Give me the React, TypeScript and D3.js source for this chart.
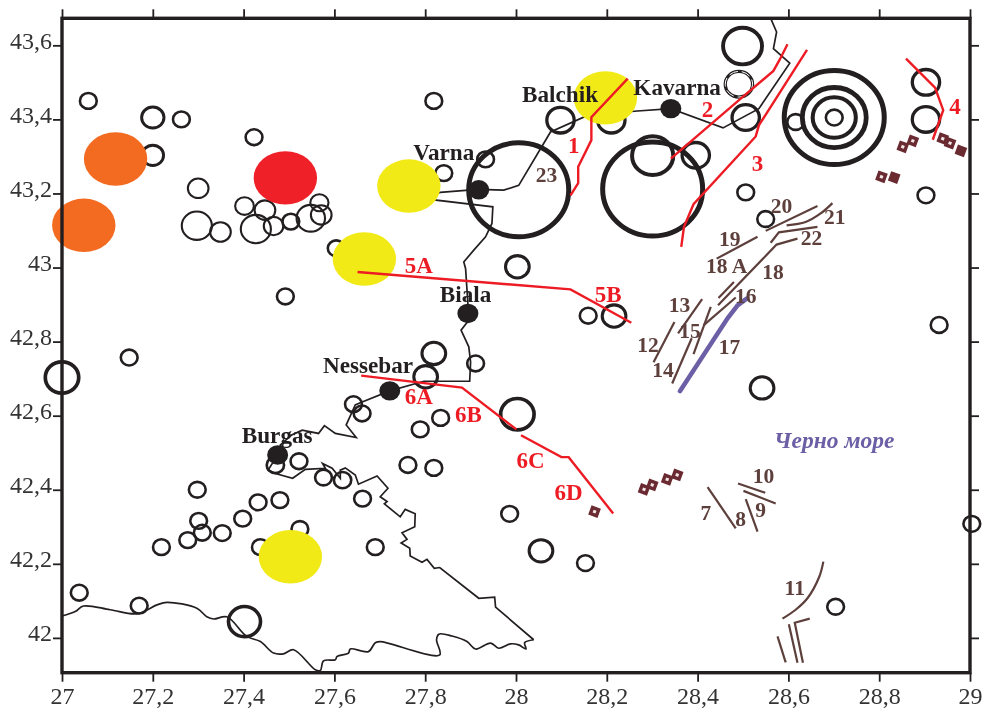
import React, { useEffect, useRef } from "react";
import * as d3 from "d3";

type Pt = [number, number];
type Quake = [number, number, number];
type Label = [string, number, number];

const xTicks = [27, 27.2, 27.4, 27.6, 27.8, 28, 28.2, 28.4, 28.6, 28.8, 29];
const yTicks = [42, 42.2, 42.4, 42.6, 42.8, 43, 43.2, 43.4, 43.6];

// lon, lat, magnitude class
const quakes: Quake[] = [
  [27.058, 43.45, 4], [27.2, 43.405, 4.2], [27.263, 43.4, 4], [27.423, 43.352, 4], [27.2, 43.303, 4.17],
  [27.504, 43.124, 4], [27.604, 43.052, 4], [27.841, 43.255, 4], [27.819, 43.45, 4], [27.933, 43.292, 4],
  [27.492, 42.922, 4], [27.148, 42.757, 4], [27.819, 42.768, 4.25], [27.911, 42.741, 4], [27.801, 42.705, 4.25],
  [27.0, 42.703, 4.6], [27.642, 42.631, 4], [27.661, 42.606, 4], [27.834, 42.594, 4], [27.789, 42.563, 4],
  [27.762, 42.467, 4], [27.819, 42.459, 4], [27.47, 42.467, 4.02], [27.522, 42.477, 4], [27.576, 42.433, 4],
  [27.618, 42.426, 4.02], [27.662, 42.376, 4], [27.298, 42.4, 4], [27.432, 42.366, 4], [27.48, 42.372, 4],
  [27.398, 42.322, 4], [27.301, 42.316, 4], [27.309, 42.284, 4], [27.277, 42.264, 4], [27.353, 42.283, 4],
  [27.219, 42.245, 4], [27.437, 42.245, 4], [27.524, 42.294, 4], [27.69, 42.245, 4], [27.038, 42.122, 4],
  [27.17, 42.087, 4], [27.402, 42.044, 4.55],
  [28.499, 43.598, 4.8], [28.491, 43.495, 4.38], [28.506, 43.405, 4.38], [28.098, 43.398, 4.38], [28.21, 43.398, 4.38],
  [28.006, 43.21, 7], [28.301, 43.212, 7], [28.301, 43.302, 4.88], [28.396, 43.303, 4.38],
  [28.701, 43.405, 7], [28.701, 43.405, 5.7], [28.701, 43.405, 4.95], [28.701, 43.405, 4],
  [28.616, 43.393, 4], [28.903, 43.5, 4.38], [28.903, 43.4, 4.38], [28.506, 43.203, 4], [28.903, 43.195, 4],
  [28.55, 43.131, 4], [28.003, 43.002, 4.25], [28.159, 42.87, 4], [28.216, 42.869, 4.25], [28.932, 42.845, 4],
  [28.542, 42.675, 4.25], [28.003, 42.604, 4.6], [27.986, 42.335, 4], [28.055, 42.235, 4.25], [28.153, 42.202, 4],
  [29.004, 42.308, 4], [28.704, 42.084, 4],
];
// the cluster west of Varna is drawn with a finer outline
const thinQuakes: Quake[] = [
  [27.3, 43.214, 4.14], [27.297, 43.113, 4.48], [27.349, 43.096, 4.14], [27.402, 43.166, 4.07], [27.447, 43.155, 4.14],
  [27.427, 43.104, 4.48], [27.466, 43.112, 4.1], [27.548, 43.133, 4.42], [27.567, 43.175, 4.05], [27.571, 43.142, 4.14],
];
const dashedQuakes: Quake[] = [[28.491, 43.495, 4.38]];

const orangeZones: Pt[] = [[27.118, 43.293], [27.048, 43.114]];
const redZones: Pt[] = [[27.492, 43.242]];
const yellowZones: Pt[] = [[27.764, 43.22], [27.666, 43.023], [28.197, 43.458], [27.503, 42.219]];
const cities: Pt[] = [[27.918, 43.21], [28.341, 43.429], [27.894, 42.876], [27.722, 42.667], [27.475, 42.494]];

const coastEast: Pt[] = [
  [28.561, 43.673], [28.574, 43.636], [28.567, 43.591], [28.603, 43.552], [28.535, 43.429], [28.456, 43.377],
  [28.341, 43.429], [28.26, 43.422], [28.149, 43.406], [28.076, 43.366], [28.006, 43.222], [27.973, 43.209],
  [27.917, 43.211], [27.833, 43.203], [27.811, 43.195], [27.811, 43.184], [27.949, 43.164], [27.947, 43.119],
  [27.933, 43.083], [27.907, 43.047], [27.885, 43.015], [27.889, 42.997], [27.894, 42.903], [27.894, 42.876],
  [27.893, 42.853], [27.879, 42.831], [27.896, 42.786], [27.9, 42.745], [27.898, 42.693], [27.797, 42.693],
  [27.722, 42.667], [27.657, 42.635], [27.646, 42.629], [27.626, 42.575], [27.648, 42.541], [27.602, 42.552],
  [27.578, 42.573], [27.565, 42.552], [27.529, 42.561], [27.506, 42.548], [27.481, 42.521], [27.475, 42.494],
  [27.454, 42.453], [27.47, 42.444], [27.508, 42.431], [27.536, 42.455], [27.58, 42.458], [27.574, 42.471],
  [27.595, 42.458], [27.613, 42.431], [27.613, 42.453], [27.624, 42.459], [27.646, 42.44], [27.653, 42.415],
  [27.694, 42.437], [27.718, 42.404], [27.701, 42.381], [27.716, 42.368], [27.71, 42.362], [27.745, 42.327],
  [27.756, 42.347], [27.778, 42.335], [27.777, 42.3], [27.749, 42.284], [27.76, 42.266], [27.747, 42.256],
  [27.766, 42.242], [27.767, 42.221], [27.793, 42.204], [27.804, 42.212], [27.82, 42.188], [27.832, 42.19],
  [27.918, 42.107], [27.953, 42.11], [27.955, 42.083], [28.039, 41.995],
];
const coastSouth: Pt[] = [
  [28.039, 41.995], [28.019, 41.987], [28.022, 41.97], [28.006, 41.981], [27.988, 41.984], [27.962, 41.972],
  [27.944, 41.986], [27.911, 41.97], [27.892, 41.99], [27.859, 42.005], [27.83, 42.01], [27.825, 41.995],
  [27.832, 41.954], [27.701, 41.99], [27.69, 41.987], [27.675, 41.963], [27.635, 41.97], [27.631, 41.959],
  [27.606, 41.95], [27.602, 41.941], [27.576, 41.938], [27.569, 41.912], [27.558, 41.914], [27.51, 41.968],
  [27.488, 41.957], [27.466, 41.959], [27.437, 41.99], [27.407, 42.004], [27.363, 42.057], [27.334, 42.051],
  [27.319, 42.057], [27.297, 42.08], [27.231, 42.096], [27.209, 42.089], [27.165, 42.065], [27.106, 42.076],
  [27.047, 42.086], [27.029, 42.071], [27.0, 42.059],
];

const redFaults: Pt[][] = [
  [[28.246, 43.51], [28.166, 43.406], [28.166, 43.344], [28.137, 43.272], [28.137, 43.228], [28.12, 43.195]],
  [[28.598, 43.603], [28.582, 43.564], [28.567, 43.531], [28.495, 43.456], [28.341, 43.294]],
  [[28.641, 43.588], [28.535, 43.384], [28.528, 43.354], [28.391, 43.171], [28.37, 43.11], [28.364, 43.056]],
  [[28.859, 43.564], [28.923, 43.486], [28.941, 43.425], [28.918, 43.345]],
  [[27.651, 42.988], [28.12, 42.941], [28.254, 42.851]],
  [[27.659, 42.708], [27.881, 42.676], [28.001, 42.563]],
  [[28.011, 42.547], [28.1, 42.488], [28.116, 42.488], [28.214, 42.336]],
];

const brownFaults: Pt[][] = [
  [[28.349, 42.853], [28.303, 42.744]],
  [[28.41, 42.915], [28.357, 42.822]],
  [[28.387, 42.809], [28.344, 42.687]],
  [[28.429, 42.894], [28.391, 42.766]],
  [[28.484, 42.919], [28.413, 42.844]],
  [[28.48, 42.961], [28.446, 42.918]],
  [[28.62, 43.078], [28.574, 43.062], [28.445, 42.898]],
  [[28.532, 43.083], [28.442, 43.024]],
  [[28.664, 43.166], [28.55, 43.099]],
  [[28.664, 43.11], [28.579, 43.095], [28.561, 43.067]],
  [[28.422, 42.407], [28.484, 42.296]],
  [[28.506, 42.375], [28.532, 42.287]],
  [[28.501, 42.397], [28.572, 42.363]],
  [[28.489, 42.417], [28.549, 42.392]],
  [[28.576, 42.004], [28.594, 41.934]],
  [[28.601, 42.037], [28.62, 41.933]],
  [[28.647, 42.052], [28.614, 42.041], [28.632, 41.933]],
];
const brownArcs: Pt[][] = [
  [[28.697, 43.174], [28.671, 43.146], [28.638, 43.123], [28.596, 43.114]],
  [[28.677, 42.206], [28.668, 42.165], [28.642, 42.107], [28.616, 42.076], [28.587, 42.052]],
];
const fault17: Pt[] = [[28.508, 42.916], [28.488, 42.898], [28.466, 42.863], [28.361, 42.666]];

const mudOpen: Pt[] = [
  [28.852, 43.326], [28.874, 43.342], [28.94, 43.348], [28.956, 43.336], [28.805, 43.245],
  [28.282, 42.401], [28.3, 42.413], [28.333, 42.428], [28.355, 42.44], [28.173, 42.341],
];
const mudSolid: Pt[] = [[28.98, 43.315], [28.833, 43.243]];

const cityLabels: Label[] = [
  ["Balchik", 28.097, 43.447], ["Kavarna", 28.355, 43.467], ["Varna", 27.841, 43.29],
  ["Biala", 27.889, 42.907], ["Nessebar", 27.674, 42.716], ["Burgas", 27.474, 42.525],
];
const redLabels: Label[] = [
  ["1", 28.127, 43.309], ["2", 28.422, 43.406], ["3", 28.532, 43.26], ["4", 28.967, 43.414],
  ["5A", 27.786, 42.984], ["5B", 28.203, 42.907], ["6A", 27.786, 42.631], ["6B", 27.895, 42.584],
  ["6C", 28.032, 42.459], ["6D", 28.116, 42.372],
];
const brownLabels: Label[] = [
  ["23", 28.067, 43.231], ["20", 28.585, 43.146], ["21", 28.702, 43.117], ["19", 28.471, 43.058],
  ["22", 28.651, 43.06], ["18 A", 28.464, 42.986], ["18", 28.566, 42.97], ["16", 28.506, 42.905],
  ["13", 28.36, 42.88], ["12", 28.291, 42.772], ["15", 28.383, 42.81], ["14", 28.324, 42.705],
  ["17", 28.47, 42.766], ["10", 28.545, 42.419], ["9", 28.539, 42.327], ["8", 28.495, 42.303],
  ["7", 28.418, 42.318], ["11", 28.614, 42.116],
];
const seaLabel: Label = ["Черно море", 28.701, 42.512];

const BLACK = "#231f20";
const RED = "#ed1c24";
const BROWN = "#5d403c";
const PURPLE = "#6c5fa5";
const MUD = "#6b2a30";
const SERIF = "'Liberation Serif', serif";

const App = () => {
  const ref = useRef<SVGSVGElement>(null);

  useEffect(() => {
    const svg = d3.select(ref.current);
    svg.selectAll("*").remove();

    const x = d3.scaleLinear().domain([27, 29]).range([62, 970]);
    const y = d3.scaleLinear().domain([41.906, 43.673]).range([672.7, 18.3]);
    const rx = d3.scaleLinear().domain([4, 7]).range([8.4, 50]);
    const sw = d3.scaleLinear().domain([4, 4.6, 5.7, 7]).range([2.6, 3.7, 4.8, 5]);
    const line = d3.line<Pt>().x(d => x(d[0])).y(d => y(d[1]));
    const smooth = d3.line<Pt>().x(d => x(d[0])).y(d => y(d[1])).curve(d3.curveCatmullRom.alpha(0.5));

    svg.append("defs").append("filter").attr("id", "soft")
      .append("feGaussianBlur").attr("stdDeviation", 0.5);

    const paths = (data: Pt[][], gen: any, color: string, width: number) =>
      svg.append("g").selectAll("path").data(data).enter().append("path")
        .attr("d", d => gen(d))
        .attr("fill", "none")
        .attr("stroke", color)
        .attr("stroke-width", width)
        .attr("stroke-linejoin", "miter");

    paths([coastEast], line, BLACK, 1.7);
    paths([coastSouth], smooth, BLACK, 1.7);

    const rings = (data: Quake[], color: string, width: (d: Quake) => number) =>
      svg.append("g").selectAll("ellipse").data(data).enter().append("ellipse")
        .attr("cx", d => x(d[0])).attr("cy", d => y(d[1]))
        .attr("rx", d => rx(d[2])).attr("ry", d => rx(d[2]) * 0.94)
        .attr("fill", "none").attr("stroke", color).attr("stroke-width", width);
    rings(quakes, BLACK, d => sw(d[2]));
    rings(thinQuakes, BLACK, () => 2.1);
    rings(dashedQuakes, "#fff", () => 1).attr("stroke-dasharray", "9 4");

    const zones = (data: Pt[], color: string) =>
      svg.append("g").selectAll("ellipse").data(data).enter().append("ellipse")
        .attr("cx", d => x(d[0])).attr("cy", d => y(d[1]))
        .attr("rx", 31.7).attr("ry", 26.7).attr("fill", color);
    zones(orangeZones, "#f36a21");
    zones(redZones, "#ef2027");
    zones(yellowZones, "#f2ea17");

    svg.append("g").selectAll("ellipse").data(cities).enter().append("ellipse")
      .attr("cx", d => x(d[0])).attr("cy", d => y(d[1]))
      .attr("rx", 10.5).attr("ry", 9.7).attr("fill", BLACK);

    paths(brownFaults, line, BROWN, 2.2);
    paths(brownArcs, smooth, BROWN, 2.2);
    paths([fault17], line, PURPLE, 4.5).attr("stroke-linecap", "round");
    paths(redFaults, line, RED, 2.4);

    const square = d3.symbol().type(d3.symbolSquare).size(42);
    const mud = (data: Pt[], fill: string) =>
      svg.append("g").attr("filter", "url(#soft)").selectAll("path").data(data).enter().append("path")
        .attr("d", square as any)
        .attr("transform", d => `translate(${x(d[0])},${y(d[1])}) rotate(20)`)
        .attr("fill", fill)
        .attr("stroke", MUD)
        .attr("stroke-width", 3.4);
    mud(mudOpen, "#f3e6e6");
    mud(mudSolid, MUD);

    const labels = (data: Label[], color: string, size: number) =>
      svg.append("g").selectAll("text").data(data).enter().append("text")
        .text(d => d[0])
        .attr("x", d => x(d[1])).attr("y", d => y(d[2]))
        .attr("text-anchor", "middle")
        .attr("font-family", SERIF).attr("font-weight", "bold")
        .attr("font-size", size).attr("fill", color);
    labels(cityLabels, BLACK, 23.2);
    labels(redLabels, RED, 23);
    labels(brownLabels, BROWN, 21.5);
    labels([seaLabel], PURPLE, 23.5).attr("font-style", "italic");

    // frame
    svg.append("rect")
      .attr("x", x.range()[0]).attr("y", y.range()[1])
      .attr("width", x.range()[1] - x.range()[0]).attr("height", y.range()[0] - y.range()[1])
      .attr("fill", "none").attr("stroke", BLACK).attr("stroke-width", 3.4);

    const fmt = (d: any) => String(d).replace(".", ",");
    const styleAxis = (g: any) => {
      g.select(".domain").remove();
      g.selectAll(".tick line").attr("stroke", BLACK).attr("stroke-width", 1.8);
      g.selectAll(".tick text").attr("font-family", SERIF).attr("font-size", 24).attr("fill", "#333");
    };
    svg.append("g").attr("transform", `translate(0,${y.range()[0]})`)
      .call(d3.axisBottom(x).tickValues(xTicks).tickFormat(fmt).tickSize(9).tickPadding(5) as any)
      .call(styleAxis);
    svg.append("g").attr("transform", `translate(0,${y.range()[1]})`)
      .call(d3.axisTop(x).tickValues(xTicks).tickFormat(() => "").tickSize(9) as any)
      .call(styleAxis);
    svg.append("g").attr("transform", `translate(${x.range()[0]},0)`)
      .call(d3.axisLeft(y).tickValues(yTicks).tickFormat(fmt).tickSize(9).tickPadding(1) as any)
      .call(styleAxis)
      .call((g: any) => g.selectAll(".tick text").attr("dy", "0.12em"));
    svg.append("g").attr("transform", `translate(${x.range()[1]},0)`)
      .call(d3.axisRight(y).tickValues(yTicks).tickFormat(() => "").tickSize(9) as any)
      .call(styleAxis);
  }, []);

  return <svg ref={ref} width={985} height={709} style={{ position: "absolute", left: 0, top: 0, background: "#fff" }} />;
};

export default App;
